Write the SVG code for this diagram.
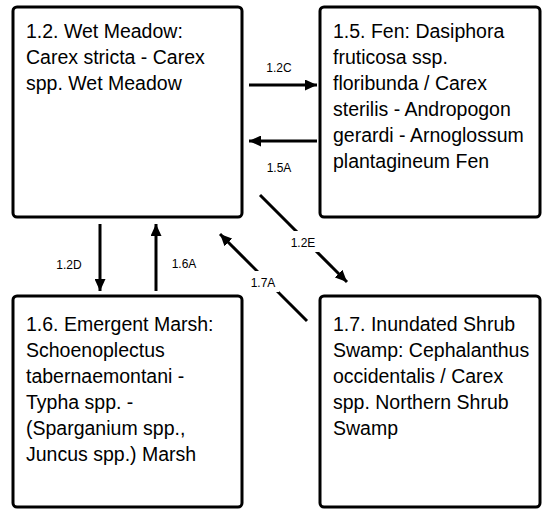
<svg xmlns="http://www.w3.org/2000/svg" width="544" height="509" viewBox="0 0 544 509">
<defs>
<marker id="ah" viewBox="0 0 12 11" refX="12" refY="5.5" markerWidth="12" markerHeight="11" markerUnits="userSpaceOnUse" orient="auto">
<path d="M0,0 L12,5.5 L0,11 Z" fill="#000"/>
</marker>
<style>
.box{fill:#fff;stroke:#000;stroke-width:3}
.t{font-family:"Liberation Sans",Arial,sans-serif;font-size:19.5px;fill:#000}
.lb{font-family:"Liberation Sans",Arial,sans-serif;font-size:12px;fill:#000;text-anchor:middle}
.c{stroke:#000;stroke-width:3;fill:none;marker-end:url(#ah)}
.bg{fill:#fff}
</style>
</defs>
<rect width="544" height="509" fill="#fff"/>
<g id="connectors">
<line class="c" x1="249" y1="85" x2="317" y2="85"/>
<text class="lb" x="279" y="72">1.2C</text>
<line class="c" x1="317" y1="141" x2="249" y2="141"/>
<text class="lb" x="279" y="172">1.5A</text>
<line class="c" x1="100" y1="224" x2="100" y2="291"/>
<text class="lb" x="69" y="269">1.2D</text>
<line class="c" x1="156" y1="291" x2="156" y2="224"/>
<text class="lb" x="184" y="268">1.6A</text>
<line class="c" x1="260" y1="195" x2="347" y2="282"/>
<rect class="bg" x="287" y="231" width="32" height="21"/>
<text class="lb" x="303" y="247">1.2E</text>
<line class="c" x1="307" y1="321" x2="220" y2="234"/>
<rect class="bg" x="247" y="271" width="32" height="21"/>
<text class="lb" x="263" y="287">1.7A</text>
</g>
<g id="n12">
<rect class="box" x="13" y="7" width="229" height="210" rx="4"/>
<text class="t" x="26" y="38">1.2. Wet Meadow:</text>
<text class="t" x="26" y="64">Carex stricta - Carex</text>
<text class="t" x="26" y="90">spp. Wet Meadow</text>
</g>
<g id="n15">
<rect class="box" x="320" y="7" width="220" height="210" rx="4"/>
<text class="t" x="333" y="38">1.5. Fen: Dasiphora</text>
<text class="t" x="333" y="64">fruticosa ssp.</text>
<text class="t" x="333" y="90">floribunda / Carex</text>
<text class="t" x="333" y="116">sterilis - Andropogon</text>
<text class="t" x="333" y="142">gerardi - Arnoglossum</text>
<text class="t" x="333" y="168">plantagineum Fen</text>
</g>
<g id="n16">
<rect class="box" x="13" y="296" width="229" height="211" rx="4"/>
<text class="t" x="26" y="331">1.6. Emergent Marsh:</text>
<text class="t" x="26" y="357">Schoenoplectus</text>
<text class="t" x="26" y="383">tabernaemontani -</text>
<text class="t" x="26" y="409">Typha spp. -</text>
<text class="t" x="26" y="435">(Sparganium spp.,</text>
<text class="t" x="26" y="461">Juncus spp.) Marsh</text>
</g>
<g id="n17">
<rect class="box" x="320" y="296" width="220" height="211" rx="4"/>
<text class="t" x="333" y="331">1.7. Inundated Shrub</text>
<text class="t" x="333" y="357">Swamp: Cephalanthus</text>
<text class="t" x="333" y="383">occidentalis / Carex</text>
<text class="t" x="333" y="409">spp. Northern Shrub</text>
<text class="t" x="333" y="435">Swamp</text>
</g>
</svg>
